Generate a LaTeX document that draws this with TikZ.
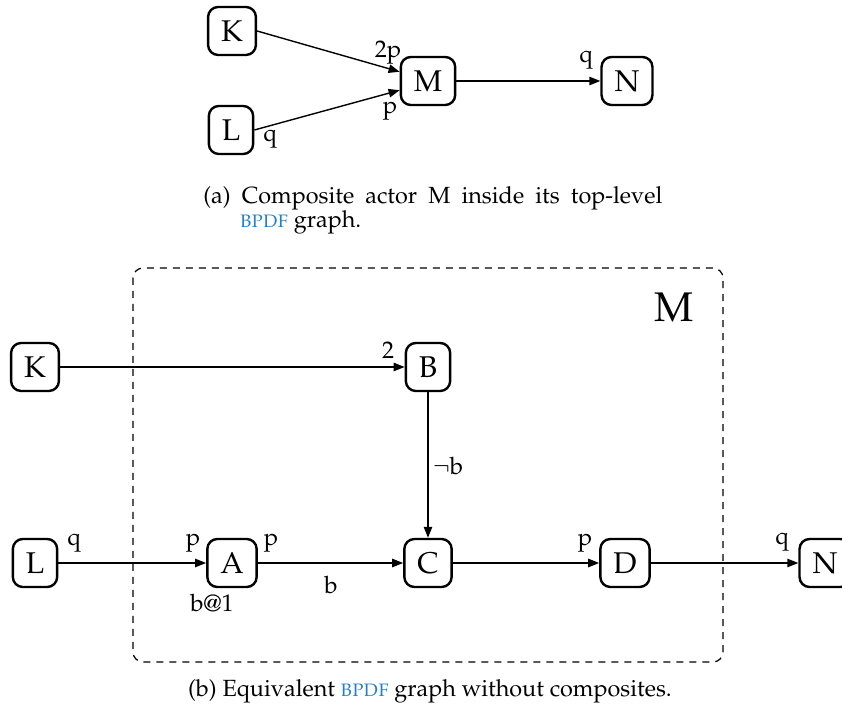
\documentclass[tikz,border=0pt]{standalone}
\usepackage[T1]{fontenc}
\usepackage{mathpazo}
\usepackage{xcolor}
\usetikzlibrary{arrows.meta}
\definecolor{acrblue}{RGB}{36,128,196}
\newcommand{\bpdf}{\textcolor{acrblue}{\fontsize{9}{12}\selectfont
  B\kern0.3pt P\kern0.3pt D\kern0.3pt F}}

\begin{document}
\begin{tikzpicture}[x=0.5pt,y=0.5pt,
  actor/.style={draw,rounded corners=5pt,line width=1.2pt,minimum height=24pt,
    inner xsep=6.5pt,font=\fontsize{15}{18}\selectfont},
  flow/.style={line width=0.7pt,-{Triangle[length=5.5pt,width=4.2pt]}},
  rate/.style={inner sep=0pt,font=\fontsize{12}{14}\selectfont}]
\path[use as bounding box] (0,0) rectangle (842,708);
\fontsize{11.7}{12}\selectfont
% top-level graph
\node[actor] (K) at (232,677) {K};
\node[actor] (L) at (231,578) {L};
\node[actor] (M) at (428,627) {M};
\node[actor] (N) at (627,627) {N};
\draw[flow] (K.east) -- (M.162);
\draw[flow] (L.east) -- (M.198);
\draw[flow] (M) -- (N);
\node[rate] (rKM) at (388,655) {$2\mathrm{p}$};
\node[rate] (rLM) at (390,597) {$\mathrm{p}$};
\node[rate] (rL) at (270,569) {$\mathrm{q}$};
\node[rate] (rN) at (586,648) {$\mathrm{q}$};
\node[anchor=north west,inner sep=0pt,text width=229.5pt,align=justify] (capa)
  at (203,522) {\hangindent=18.5pt\hangafter=1 (a) Composite actor $\mathrm{M}$ inside its
  top-level {\bpdf} graph.\par};
% flattened graph
\draw[line width=0.6pt,dash pattern=on 3.5pt off 3pt,rounded corners=5pt]
  (133,440) rectangle (723,46);
\node[font=\fontsize{20.7}{25}\selectfont] (Mlab) at (674,401) {M};
\node[actor] (K2) at (35,341) {K};
\node[actor] (B) at (428,341) {B};
\node[actor] (L2) at (35,145) {L};
\node[actor] (A) at (232,145) {A};
\node[actor] (C) at (428,145) {C};
\node[actor] (D) at (625,145) {D};
\node[actor] (N2) at (825,145) {N};
\draw[flow] (K2) -- (B);
\draw[flow] (B) -- (C);
\draw[flow] (L2) -- (A);
\draw[flow] (A) -- (C);
\draw[flow] (C) -- (D);
\draw[flow] (D) -- (N2);
\node[rate] (rKB) at (388,358) {$2$};
\node[rate] (rBC) at (448,242) {$\neg\mathrm{b}$};
\node[rate] (rL2) at (74,165) {$\mathrm{q}$};
\node[rate] (rA1) at (193,165) {$\mathrm{p}$};
\node[rate] (rA2) at (271,165) {$\mathrm{p}$};
\node[rate] (rAC) at (331,123) {$\mathrm{b}$};
\node[rate] (rA3) at (212,105) {$\mathrm{b}@1$};
\node[rate] (rD) at (585,165) {$\mathrm{p}$};
\node[rate] (rN2) at (782,166) {$\mathrm{q}$};
\node[anchor=base] (capb) at (430,11) {(b) Equivalent {\bpdf} graph without composites.};
\end{tikzpicture}
\end{document}
